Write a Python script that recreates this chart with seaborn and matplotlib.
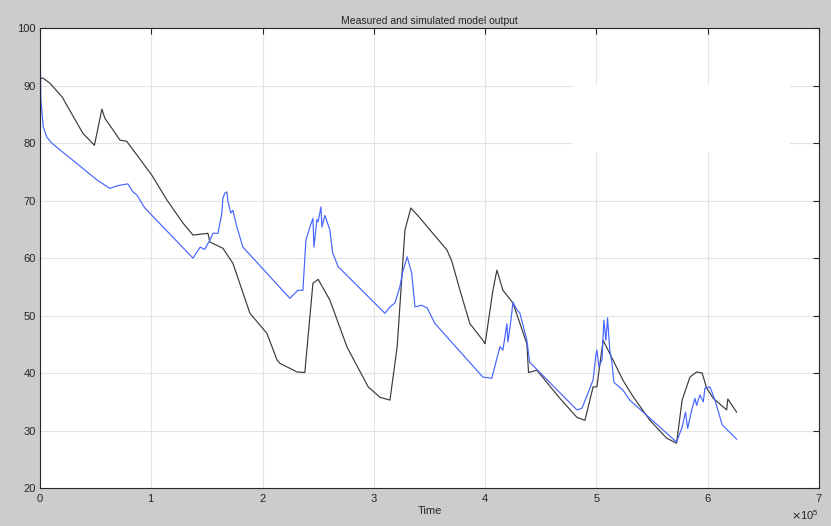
import matplotlib
matplotlib.use("Agg")
import matplotlib.pyplot as plt
import matplotlib.patches as mpatches
from matplotlib.ticker import ScalarFormatter
import numpy as np
import pandas as pd
import seaborn as sns

# measured output (black), time in units of 1e5
meas_t = [0.0, 0.027, 0.09, 0.2, 0.386, 0.49, 0.557, 0.584, 0.656, 0.72, 0.78, 1.006,
          1.141, 1.285, 1.375, 1.51, 1.527, 1.644, 1.734, 1.887, 2.04, 2.13, 2.156, 2.31,
          2.38, 2.453, 2.50, 2.605, 2.76, 2.95, 3.055, 3.145, 3.21, 3.28, 3.333, 3.40,
          3.504, 3.657, 3.70, 3.774, 3.863, 3.98, 4.0, 4.07, 4.106, 4.16, 4.25, 4.375,
          4.39, 4.465, 4.672, 4.825, 4.897, 4.97, 5.004, 5.06, 5.12, 5.24, 5.33, 5.48,
          5.63, 5.72, 5.77, 5.84, 5.90, 5.95, 5.99, 6.05, 6.17, 6.18, 6.26]
meas_y = [91.2, 91.3, 90.4, 88.0, 81.7, 79.6, 85.9, 84.3, 82.3, 80.5, 80.3, 74.4,
          70.1, 66.1, 64.0, 64.3, 62.8, 61.7, 59.1, 50.4, 46.9, 42.3, 41.7, 40.2,
          40.1, 55.6, 56.3, 52.7, 44.5, 37.6, 35.8, 35.3, 44.6, 64.9, 68.7, 67.3,
          64.9, 61.4, 59.5, 54.4, 48.6, 45.7, 45.1, 54.4, 57.9, 54.4, 52.2, 45.1,
          40.1, 40.5, 35.6, 32.3, 31.8, 37.6, 37.6, 45.7, 43.4, 38.7, 35.9, 31.8,
          28.7, 27.8, 35.3, 39.3, 40.2, 40.0, 37.4, 35.6, 33.6, 35.5, 33.2]

# simulated model output (blue)
sim_t = [0.0, 0.009, 0.03, 0.06, 0.105, 0.512, 0.629, 0.70, 0.79, 0.836, 0.87, 0.943,
         1.375, 1.44, 1.48, 1.527, 1.554, 1.6, 1.635, 1.644, 1.662, 1.68, 1.69, 1.716,
         1.734, 1.77, 1.824, 2.246, 2.318, 2.363, 2.39, 2.426, 2.453, 2.462, 2.489, 2.50,
         2.525, 2.534, 2.56, 2.605, 2.63, 2.68, 3.10, 3.145, 3.19, 3.234, 3.26, 3.30,
         3.324, 3.34, 3.37, 3.43, 3.48, 3.55, 3.98, 4.06, 4.133, 4.16, 4.196, 4.205,
         4.232, 4.25, 4.286, 4.313, 4.375, 4.40, 4.825, 4.87, 4.924, 4.97, 4.995, 5.004,
         5.022, 5.05, 5.067, 5.085, 5.10, 5.12, 5.14, 5.157, 5.24, 5.30, 5.72, 5.77,
         5.80, 5.82, 5.86, 5.885, 5.90, 5.93, 5.96, 5.975, 6.02, 6.065, 6.13, 6.26]
sim_y = [99.5, 87.5, 82.8, 81.1, 80.0, 73.6, 72.1, 72.6, 72.9, 71.5, 71.0, 68.7,
         60.0, 61.9, 61.5, 63.1, 64.3, 64.3, 67.8, 70.4, 71.3, 71.5, 69.8, 67.8,
         68.3, 65.4, 61.9, 53.0, 54.4, 54.4, 63.1, 65.4, 66.9, 61.9, 66.7, 66.3,
         68.9, 65.4, 67.4, 64.9, 60.9, 58.5, 50.4, 51.5, 52.2, 55.0, 57.6, 60.2,
         58.5, 57.4, 51.5, 51.8, 51.3, 48.6, 39.3, 39.1, 44.6, 44.0, 48.6, 45.4,
         49.2, 52.3, 51.0, 50.4, 45.7, 41.9, 33.6, 33.9, 36.5, 38.8, 43.1, 44.0,
         41.1, 42.3, 49.2, 45.7, 49.6, 44.0, 41.7, 38.4, 37.0, 35.3, 28.0, 30.6,
         33.2, 30.4, 33.9, 35.6, 34.4, 36.2, 35.0, 37.4, 37.6, 35.3, 31.0, 28.5]

meas = pd.DataFrame({"Time": np.array(meas_t) * 1e5, "Output": meas_y})
sim = pd.DataFrame({"Time": np.array(sim_t) * 1e5, "Output": sim_y})

sns.set_style("whitegrid")
plt.rcParams["font.family"] = ["Liberation Sans", "DejaVu Sans"]

fig = plt.figure(figsize=(8.31, 5.26), dpi=100, facecolor="#cccccc")
ax = fig.add_axes([0.048, 0.072, 0.9376, 0.8748])
ax.set_facecolor("white")

sns.lineplot(data=meas, x="Time", y="Output", ax=ax, color="#3a3a3a", lw=0.85,
             estimator=None, sort=False)
sns.lineplot(data=sim, x="Time", y="Output", ax=ax, color="#4664ff", lw=0.85,
             estimator=None, sort=False)

ax.set_xlim(0, 7e5)
ax.set_ylim(20, 100)
ax.set_xticks(np.arange(0, 8e5, 1e5))
ax.set_yticks(np.arange(20, 101, 10))
fmt = ScalarFormatter(useMathText=True)
fmt.set_powerlimits((0, 0))
ax.xaxis.set_major_formatter(fmt)
ax.xaxis.get_offset_text().set_fontsize(8)
ax.xaxis.get_offset_text().set_color("#262626")

ax.grid(True, color="#e3e3e3", lw=0.8)
for s in ax.spines.values():
    s.set_color("#262626")
    s.set_linewidth(0.8)
ax.tick_params(direction="in", length=4, width=0.8, colors="#262626",
               labelsize=8, top=True, right=True, pad=3)

# blank box left over in the figure (hides gridlines)
ax.add_patch(mpatches.Rectangle((0.684, 0.73), 0.279, 0.146, transform=ax.transAxes,
                                facecolor="white", edgecolor="none", zorder=1.5))

ax.set_title("Measured and simulated model output", fontsize=7.5, color="#262626", pad=3)
ax.set_xlabel("Time", fontsize=8, color="#262626", labelpad=1)
ax.set_ylabel("")

fig.savefig("out.png", dpi=100, facecolor=fig.get_facecolor())
